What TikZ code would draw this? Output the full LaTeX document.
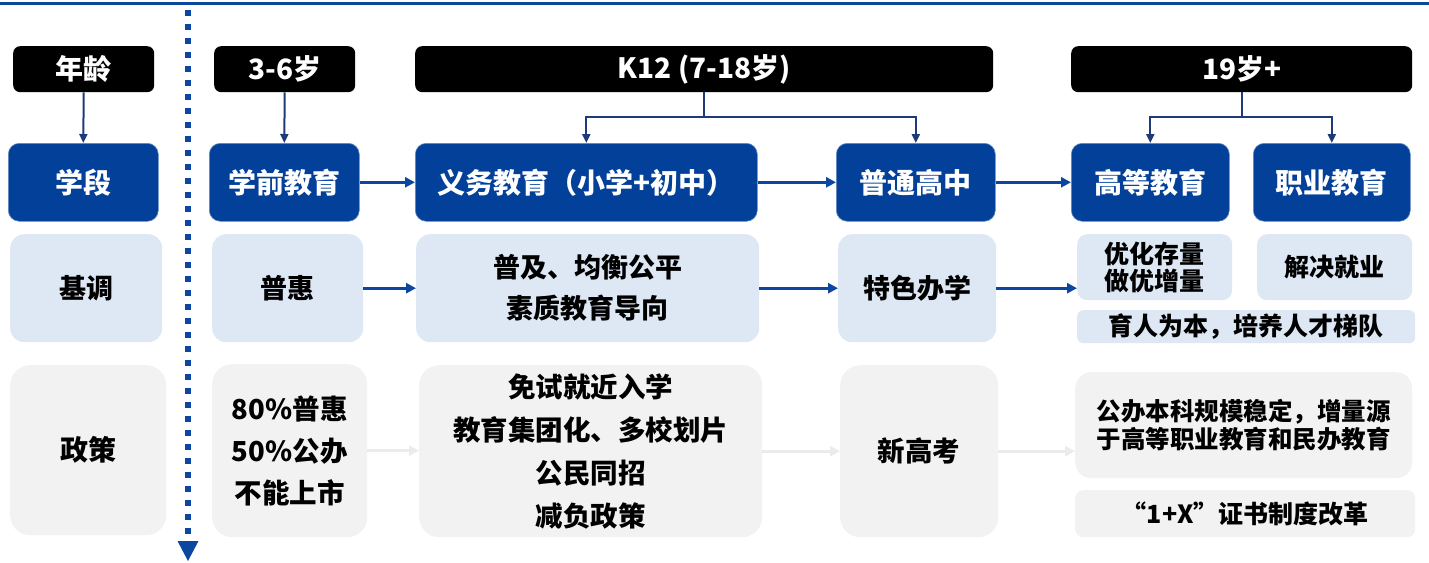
\documentclass[tikz,border=0pt]{standalone}
\usepackage{fontspec}
\setmainfont{Noto Sans CJK SC}
\usetikzlibrary{arrows.meta}
\definecolor{dblue}{HTML}{03409A}
\definecolor{lineblue}{HTML}{0B47A1}
\definecolor{navy}{HTML}{1F3A7A}
\definecolor{lblue}{HTML}{DEE8F5}
\definecolor{lgrey}{HTML}{F2F2F2}
\definecolor{agrey}{HTML}{EBEBEB}
\tikzset{
  base/.style={anchor=north west, inner sep=0pt, align=center, font=\bfseries},
  blackbox/.style={base, fill=black, rounded corners=7pt, text=white, font=\bfseries\fontsize{28}{32}\selectfont},
  bluebox/.style={base, fill=dblue, draw=dblue!60!white, line width=0.6pt, rounded corners=11pt, text=white, font=\bfseries\fontsize{28}{32}\selectfont},
  lbbox/.style={base, fill=lblue, rounded corners=14pt, text=black},
  grbox/.style={base, fill=lgrey, rounded corners=20pt, text=black},
  harr/.style={-{Triangle[length=10pt,width=10pt]}, line width=2.6pt, draw=lineblue},
  varr/.style={-{Triangle[length=9pt,width=8pt]}, line width=2pt, draw=navy},
  garr/.style={-{Triangle[length=10pt,width=10pt]}, line width=2.6pt, draw=agrey},
}
\begin{document}
\begin{tikzpicture}[x=1pt,y=-1pt]
\useasboundingbox (0,0) rectangle (1429,562);
% top rule
\draw[line width=2.5pt, lineblue] (0,3.5) -- (1429,3.5);
% dotted separator
\draw[line width=6.5pt, lineblue, dash pattern=on 6pt off 8pt] (188,10) -- (188,538);
\fill[lineblue] (177.5,541) -- (198.5,541) -- (188,561) -- cycle;
% row 1
\node[blackbox, minimum width=141pt, minimum height=46pt] (age) at (13,46) {年龄};
\node[blackbox, minimum width=141pt, minimum height=46pt] (a36) at (214,46) {3-6岁};
\node[blackbox, minimum width=578pt, minimum height=46pt] (k12) at (415,46) {K12 (7-18岁)};
\node[blackbox, minimum width=341pt, minimum height=46pt] (a19) at (1071,46) {19岁+};
% row 2
\node[bluebox, minimum width=150pt, minimum height=78pt] (xd) at (8,143) {学段};
\node[bluebox, minimum width=150pt, minimum height=78pt] (pre) at (209,143) {学前教育};
\node[bluebox, minimum width=342pt, minimum height=78pt] (yw) at (415,143) {义务教育（小学+初中）};
\node[bluebox, minimum width=159pt, minimum height=78pt] (gz) at (836,143) {普通高中};
\node[bluebox, minimum width=158pt, minimum height=78pt] (gd) at (1071,143) {高等教育};
\node[bluebox, minimum width=157pt, minimum height=78pt] (zy) at (1253,143) {职业教育};
% row 3
\node[lbbox, minimum width=152pt, minimum height=108pt, font=\bfseries\fontsize{27}{30}\selectfont] (jd) at (10,234) {基调};
\node[lbbox, minimum width=151pt, minimum height=108pt, font=\bfseries\fontsize{27}{30}\selectfont] (ph) at (212,234) {普惠};
\node[lbbox, minimum width=343pt, minimum height=108pt, font=\bfseries\fontsize{27}{41}\selectfont] (pj) at (416,234) {普及、均衡公平\\素质教育导向};
\node[lbbox, minimum width=158pt, minimum height=108pt, font=\bfseries\fontsize{27}{30}\selectfont] (ts) at (838,234) {特色办学};
\node[lbbox, minimum width=155pt, minimum height=66pt, rounded corners=10pt, font=\bfseries\fontsize{25}{27}\selectfont] (yh) at (1077,234) {优化存量\\做优增量};
\node[lbbox, minimum width=155pt, minimum height=66pt, rounded corners=10pt, font=\bfseries\fontsize{25}{27}\selectfont] (jj) at (1257,234) {解决就业};
\node[lbbox, minimum width=338pt, minimum height=33pt, rounded corners=6pt, font=\bfseries\fontsize{25}{27}\selectfont] (yr) at (1077,310) {育人为本，培养人才梯队};
% row 4
\node[grbox, minimum width=156pt, minimum height=170pt, font=\bfseries\fontsize{28}{30}\selectfont] (zc) at (10,365) {政策};
\node[grbox, minimum width=155pt, minimum height=173pt, font=\bfseries\fontsize{27.5}{42}\selectfont] (p80) at (212,364) {80\%普惠\\50\%公办\\不能上市};
\node[grbox, minimum width=343pt, minimum height=172pt, font=\bfseries\fontsize{27.5}{43}\selectfont] (ms) at (419,365) {免试就近入学\\教育集团化、多校划片\\公民同招\\减负政策};
\node[grbox, minimum width=158pt, minimum height=172pt, font=\bfseries\fontsize{27.5}{30}\selectfont] (xgk) at (840,365) {新高考};
\node[grbox, minimum width=337pt, minimum height=106pt, rounded corners=16pt, font=\bfseries\fontsize{24.5}{28}\selectfont] (gb) at (1075,372) {公办本科规模稳定，增量源\\于高等职业教育和民办教育};
\node[grbox, minimum width=340pt, minimum height=47pt, rounded corners=8pt, font=\bfseries\fontsize{25}{28}\selectfont] (x1) at (1075,490) {“1+X”证书制度改革};
% vertical connectors
\draw[varr] (age.south) -- (xd.north);
\draw[varr] (a36.south) -- (pre.north);
\draw[varr] (k12.south) -- ++(0,25) -| (yw.north);
\draw[varr] (k12.south) -- ++(0,25) -| (gz.north);
\draw[varr] (a19.south) -- ++(0,25) -| (gd.north);
\draw[varr] (a19.south) -- ++(0,25) -| (zy.north);
% row 2 arrows
\draw[harr] (pre.east) -- (yw.west);
\draw[harr] (yw.east) -- (gz.west);
\draw[harr] (gz.east) -- (gd.west);
% row 3 arrows
\draw[harr] (ph.east) -- (pj.west);
\draw[harr] (pj.east) -- (ts.west);
\draw[harr] (ts.east) -- (ts.east -| yh.west);
% row 4 arrows
\draw[garr] (p80.east) -- (p80.east -| ms.west);
\draw[garr] (ms.east) -- (xgk.west);
\draw[garr] (xgk.east) -- (xgk.east -| gb.west);
\end{tikzpicture}
\end{document}
